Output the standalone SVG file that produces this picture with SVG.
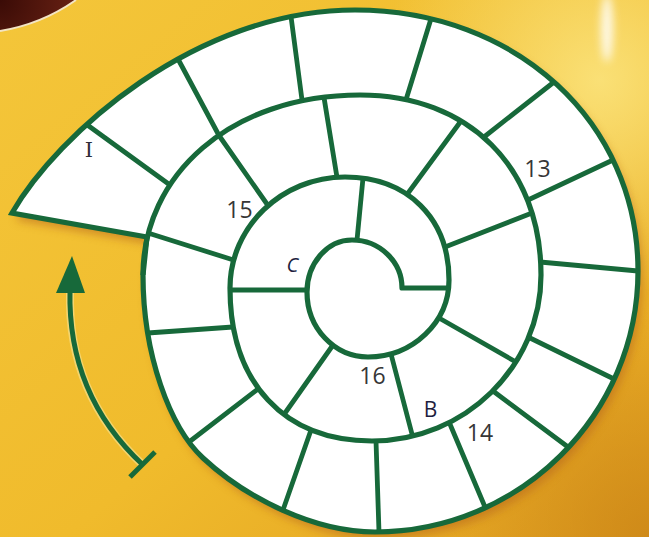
<svg xmlns="http://www.w3.org/2000/svg" width="649" height="537" viewBox="0 0 649 537">
<defs>
  <linearGradient id="bg" x1="0" y1="0" x2="1" y2="1">
    <stop offset="0" stop-color="#f4c63a"/>
    <stop offset="0.55" stop-color="#f0bb2c"/>
    <stop offset="1" stop-color="#e2a021"/>
  </linearGradient>
  <radialGradient id="glow" cx="600" cy="80" r="220" gradientUnits="userSpaceOnUse">
    <stop offset="0" stop-color="#fbe47e" stop-opacity="0.9"/>
    <stop offset="1" stop-color="#fbe47e" stop-opacity="0"/>
  </radialGradient>
  <radialGradient id="dark" cx="649" cy="537" r="230" gradientUnits="userSpaceOnUse">
    <stop offset="0" stop-color="#c98316" stop-opacity="0.75"/>
    <stop offset="1" stop-color="#c98316" stop-opacity="0"/>
  </radialGradient>
  <radialGradient id="maroon" cx="0" cy="0" r="80" gradientUnits="userSpaceOnUse">
    <stop offset="0" stop-color="#3a0b06"/>
    <stop offset="1" stop-color="#6a2214"/>
  </radialGradient>
  <filter id="blur" x="-20%" y="-20%" width="140%" height="140%"><feGaussianBlur stdDeviation="5"/></filter>
  <filter id="blur2" x="-100%" y="-50%" width="300%" height="200%"><feGaussianBlur stdDeviation="4"/></filter>
  <path id="outer" d="M147,237 L12,213 C57,135 195,10 355,10 C516.3,10 638,122.2 638,271 C638,414.6 519.7,532 375,532 C315,532 247,499 203,458 C170,427.4 143,355 143,275 Z"/>
</defs>
<style>
  .ln{fill:none;stroke:#17693a;stroke-width:5.2;stroke-linejoin:round}
  .dv{fill:none;stroke:#17693a;stroke-width:4.8;stroke-linecap:butt}
  .num{font-family:"Open Sans","Noto Sans",sans-serif;font-size:23px;fill:#363636;text-anchor:middle}
  .let{font-family:"Open Sans","Noto Sans",sans-serif;fill:#1e1e40;text-anchor:middle}
</style>

<g id="background">
  <rect width="649" height="537" fill="url(#bg)"/>
  <rect width="649" height="537" fill="url(#glow)"/>
  <rect width="649" height="537" fill="url(#dark)"/>
  <ellipse cx="607" cy="28" rx="6" ry="34" fill="#ffffff" opacity="0.85" filter="url(#blur2)"/>
  <path d="M0,0 L76,0 A182,182 0 0 1 0,31 Z" fill="url(#maroon)"/>
  <path d="M76,0 A182,182 0 0 1 0,31" fill="none" stroke="#f3e4c4" stroke-width="2"/>
</g>

<g id="board">
  <use href="#outer" fill="#b8691a" opacity="0.6" transform="translate(4,7)" filter="url(#blur)"/>
  <use href="#outer" fill="#ffffff" stroke="#17693a" stroke-width="5.2" stroke-linejoin="miter" stroke-miterlimit="10"/>
  <path class="ln" d="M143,275 C143,176 229.8,95 360,95 C468.6,95 541,167 541,275 C541,366.3 465,441 372,441 C284,441 230,382.9 230,288 C230,227 281.75,177 345,177 C407.4,177 449,218.2 449,280 C449,322.4 412.6,357 368,357 C334.5,357 307,328.2 307,292 C307,263.4 327.25,240 352,240 C379.5,240 402,261.6 402,288 L449,288"/>
</g>

<g id="dividers">
  <path class="dv" d="M86,124 L170,185 M178,59 L219,135.5 M291,16.5 L302,100 M431,18.8 L406,99.7 M554,82 L484,137 M613,160 L528,200 M638,271 L540,262 M614,379 L528,337 M568,447 L493,391 M485,507 L449.5,423 M379,532 L376,441 M283,510 L311,430 M189,442 L258,389 M147.7,333 L233,327"/>
  <path class="dv" d="M148,233 L233.5,260 M219,135.5 L268,205.5 M324,97.5 L337,177.3 M461,121 L407,194.5 M532,213 L445,247 M516,362 L439,318 M412.5,436 L391,354 M284,414.5 L333,345 M230,290 L307,290"/>
  <path class="dv" d="M363,178 L357,240"/>
</g>

<g id="arrow">
  <path d="M70,292 C68,370 100,425 143,465" fill="none" stroke="#f6e49a" stroke-width="8" opacity="0.6"/>
  <path d="M70,290 C68,370 100,425 143,465" fill="none" stroke="#17693a" stroke-width="5"/>
  <path d="M130,477 L155,452" fill="none" stroke="#17693a" stroke-width="5"/>
  <polygon points="72,256 56,293 85,293" fill="#17693a"/>
</g>

<g id="labels">
  <text x="89" y="157" font-family="'DejaVu Serif',serif" font-size="21" fill="#2e2e3a" text-anchor="middle">I</text>
  <text class="num" x="239.5" y="218">15</text>
  <text class="num" x="537.5" y="177">13</text>
  <text class="num" x="372.5" y="384">16</text>
  <text class="num" x="480" y="441">14</text>
  <text class="let" x="430.5" y="417" font-size="21">B</text>
  <text class="let" x="292.5" y="272" font-size="20" font-style="italic">C</text>
</g>
</svg>
